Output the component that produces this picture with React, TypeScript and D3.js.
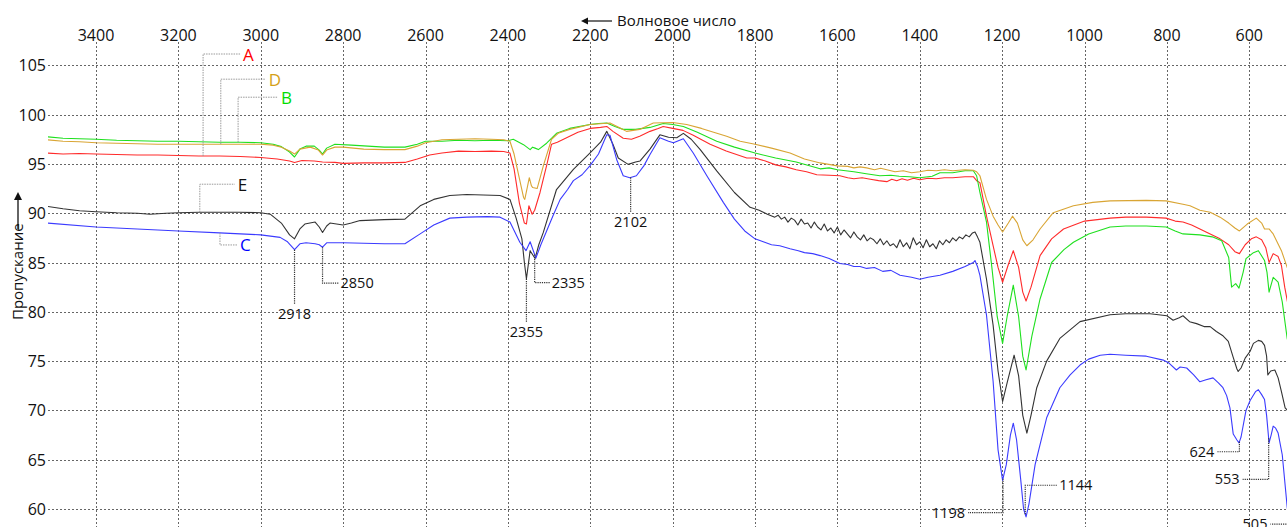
import React from 'react';
import * as d3 from 'd3';

type Pt = [number, number];

// IR transmission spectra, [wavenumber cm-1, transmission %]
const seriesA: Pt[] = [
  [3520, 96.1], [3480, 96.0], [3440, 96.05], [3400, 96.0], [3350, 95.95], [3300, 95.9], [3250, 95.9],
  [3200, 95.85], [3150, 95.8], [3100, 95.8], [3050, 95.75], [3000, 95.65], [2960, 95.5], [2930, 95.3],
  [2918, 95.15], [2900, 95.35], [2870, 95.3], [2850, 95.2], [2820, 95.15], [2800, 95.05], [2750, 95.1],
  [2700, 95.1], [2650, 95.15], [2620, 95.5], [2590, 95.9], [2560, 96.1], [2520, 96.3], [2480, 96.25],
  [2440, 96.3], [2410, 96.25], [2395, 96.1], [2385, 94.5], [2372, 91.0], [2360, 89.0], [2355, 88.9],
  [2349, 90.75], [2341, 89.9], [2335, 90.3], [2322, 92.1], [2305, 95.0], [2294, 97.0], [2280, 97.2],
  [2260, 97.6], [2230, 98.2], [2200, 98.6], [2175, 98.7], [2160, 98.8], [2145, 98.3], [2120, 97.6],
  [2100, 97.5], [2080, 97.8], [2055, 98.3], [2035, 98.6], [2023, 98.8], [2000, 98.6], [1975, 98.4],
  [1950, 97.9], [1909, 97.0], [1870, 96.3], [1820, 95.6], [1800, 95.6], [1775, 95.3], [1750, 94.9],
  [1725, 94.7], [1700, 94.4], [1675, 94.2], [1650, 93.9], [1620, 93.85], [1594, 93.8], [1575, 93.6],
  [1560, 93.5], [1540, 93.6], [1520, 93.45], [1500, 93.3], [1480, 93.2], [1468, 93.45], [1456, 93.3],
  [1443, 93.5], [1430, 93.35], [1415, 93.55], [1400, 93.4], [1380, 93.55], [1360, 93.5], [1340, 93.6],
  [1320, 93.6], [1290, 93.7], [1270, 93.7], [1262, 93.3], [1254, 93.1], [1238, 89.7], [1222, 86.7],
  [1210, 84.5], [1199, 83.0], [1185, 84.8], [1173, 86.2], [1160, 84.5], [1150, 82.0], [1142, 81.1],
  [1130, 82.5], [1108, 85.7], [1080, 87.4], [1051, 88.4], [1000, 89.2], [938, 89.5], [900, 89.6],
  [850, 89.6], [802, 89.5], [780, 89.2], [761, 89.1], [740, 88.8], [720, 88.4], [700, 88.0],
  [671, 87.4], [650, 86.8], [635, 86.1], [624, 85.9], [610, 86.8], [595, 87.4], [583, 87.6],
  [570, 87.3], [560, 86.5], [552, 85.0], [542, 85.9], [530, 85.6], [522, 84.7], [514, 82.5],
  [505, 80.5], [495, 79.0],
];

const seriesB: Pt[] = [
  [3520, 97.75], [3480, 97.6], [3440, 97.55], [3400, 97.5], [3350, 97.4], [3300, 97.35], [3250, 97.3],
  [3200, 97.3], [3150, 97.25], [3100, 97.2], [3050, 97.2], [3000, 97.15], [2970, 97.0], [2950, 96.75],
  [2930, 96.2], [2918, 95.7], [2905, 96.5], [2890, 96.8], [2870, 96.8], [2858, 96.4], [2850, 96.0],
  [2840, 96.6], [2820, 97.0], [2780, 96.9], [2740, 96.8], [2700, 96.7], [2650, 96.7], [2620, 97.0],
  [2600, 97.3], [2560, 97.3], [2520, 97.4], [2480, 97.35], [2440, 97.4], [2400, 97.35], [2387, 97.5],
  [2362, 96.95], [2346, 96.45], [2340, 96.7], [2334, 96.6], [2326, 96.45], [2306, 97.1], [2282, 98.1],
  [2250, 98.6], [2201, 99.0], [2180, 99.1], [2160, 99.15], [2140, 98.8], [2120, 98.5], [2090, 98.5],
  [2055, 98.7], [2023, 99.1], [2000, 99.0], [1974, 98.8], [1940, 98.2], [1893, 97.3], [1850, 96.7],
  [1800, 96.1], [1750, 95.6], [1700, 95.2], [1642, 94.5], [1620, 94.6], [1600, 94.4], [1560, 94.2],
  [1530, 94.0], [1497, 93.8], [1470, 93.85], [1450, 93.75], [1425, 93.7], [1400, 93.6], [1370, 93.75],
  [1351, 94.1], [1320, 94.1], [1290, 94.3], [1270, 94.3], [1262, 93.8], [1254, 92.1], [1238, 89.1],
  [1225, 84.5], [1212, 79.5], [1199, 76.8], [1188, 79.5], [1173, 82.7], [1160, 79.5], [1150, 75.5],
  [1142, 74.1], [1128, 77.5], [1108, 81.3], [1080, 85.0], [1050, 86.3], [1027, 87.05], [990, 87.9],
  [938, 88.6], [900, 88.7], [850, 88.7], [802, 88.6], [780, 88.2], [761, 87.9], [720, 87.8],
  [690, 87.6], [667, 87.2], [650, 85.5], [643, 82.5], [633, 82.85], [625, 82.4], [615, 84.0],
  [608, 85.4], [590, 86.0], [578, 86.2], [563, 85.2], [557, 84.0], [552, 82.0], [542, 83.5],
  [530, 83.0], [520, 81.0], [508, 77.3], [495, 75.0],
];

const seriesC: Pt[] = [
  [3520, 89.0], [3400, 88.6], [3300, 88.4], [3200, 88.2], [3100, 88.0], [3000, 87.8], [2953, 87.55],
  [2935, 87.1], [2918, 86.3], [2905, 86.9], [2890, 87.0], [2868, 86.9], [2858, 86.8], [2850, 86.55],
  [2840, 87.0], [2800, 87.0], [2750, 86.95], [2700, 86.9], [2650, 86.9], [2613, 87.9], [2580, 88.8],
  [2541, 89.5], [2500, 89.6], [2450, 89.65], [2419, 89.6], [2395, 89.1], [2371, 87.05], [2356, 86.2],
  [2346, 87.1], [2332, 85.45], [2320, 86.8], [2306, 88.2], [2290, 89.8], [2273, 91.4], [2255, 92.4],
  [2241, 93.3], [2220, 93.9], [2201, 94.8], [2180, 96.0], [2160, 97.95], [2152, 97.9], [2136, 95.45],
  [2120, 93.8], [2104, 93.6], [2088, 93.8], [2070, 94.8], [2055, 95.95], [2031, 97.65], [2010, 97.3],
  [1998, 97.15], [1974, 97.55], [1950, 96.1], [1917, 93.8], [1877, 91.1], [1850, 89.4], [1825, 88.2],
  [1800, 87.4], [1780, 87.1], [1760, 86.8], [1740, 86.7], [1715, 86.4], [1695, 86.2], [1680, 86.0],
  [1660, 85.9], [1642, 85.7], [1620, 85.4], [1594, 84.9], [1575, 84.8], [1560, 84.6], [1545, 84.6],
  [1529, 84.4], [1510, 84.5], [1490, 84.1], [1470, 84.2], [1448, 83.7], [1420, 83.5], [1400, 83.3],
  [1380, 83.5], [1351, 83.7], [1320, 84.1], [1290, 84.6], [1270, 85.0], [1266, 85.2], [1260, 84.6],
  [1254, 83.7], [1238, 79.65], [1222, 72.95], [1210, 66.0], [1199, 62.9], [1190, 64.5], [1180, 67.5],
  [1173, 68.7], [1165, 67.0], [1155, 63.0], [1148, 60.0], [1142, 59.2], [1135, 60.5], [1120, 64.5],
  [1092, 69.25], [1060, 72.3], [1035, 73.6], [1011, 74.6], [990, 75.2], [962, 75.6], [938, 75.7],
  [900, 75.6], [850, 75.5], [809, 75.1], [795, 74.8], [777, 74.1], [768, 74.4], [752, 74.3],
  [735, 73.6], [720, 72.9], [705, 73.1], [688, 73.3], [675, 72.8], [664, 72.3], [655, 71.5],
  [647, 70.25], [639, 67.6], [630, 67.0], [625, 66.7], [620, 67.3], [608, 70.0], [598, 71.0],
  [585, 71.9], [578, 72.1], [570, 71.6], [563, 71.1], [558, 69.5], [552, 66.7], [547, 67.5],
  [542, 68.4], [536, 68.2], [530, 67.7], [520, 65.5], [508, 60.2], [500, 58.0],
];

const seriesD: Pt[] = [
  [3520, 97.45], [3480, 97.3], [3440, 97.25], [3400, 97.15], [3350, 97.1], [3300, 97.05], [3250, 97.0],
  [3200, 97.0], [3150, 97.0], [3100, 97.0], [3050, 97.0], [3000, 97.0], [2970, 96.9], [2950, 96.7],
  [2930, 96.3], [2918, 96.0], [2905, 96.5], [2880, 96.7], [2860, 96.4], [2850, 95.9], [2840, 96.4],
  [2820, 96.7], [2800, 96.7], [2750, 96.5], [2700, 96.45], [2650, 96.45], [2620, 96.8], [2600, 97.15],
  [2560, 97.45], [2520, 97.5], [2480, 97.55], [2440, 97.5], [2410, 97.45], [2395, 97.3], [2385, 96.0],
  [2372, 93.5], [2362, 91.6], [2359, 91.4], [2352, 92.8], [2348, 93.6], [2343, 92.8], [2340, 92.6],
  [2329, 92.5], [2314, 94.8], [2294, 97.5], [2278, 98.1], [2250, 98.5], [2200, 99.0], [2152, 99.15],
  [2130, 98.7], [2112, 98.3], [2080, 98.5], [2047, 99.15], [2000, 99.2], [1966, 99.0], [1930, 98.6],
  [1869, 97.8], [1836, 97.3], [1800, 97.0], [1760, 96.6], [1715, 96.1], [1680, 95.5], [1642, 95.1],
  [1600, 94.8], [1575, 94.75], [1560, 94.6], [1545, 94.7], [1529, 94.6], [1510, 94.4], [1495, 94.55],
  [1480, 94.4], [1460, 94.2], [1440, 94.3], [1420, 94.1], [1400, 94.2], [1380, 94.35], [1360, 94.3],
  [1340, 94.4], [1320, 94.3], [1290, 94.4], [1270, 94.35], [1262, 94.2], [1254, 93.8], [1238, 91.4],
  [1222, 89.7], [1210, 88.8], [1199, 88.1], [1185, 89.0], [1175, 89.7], [1163, 89.0], [1150, 87.3],
  [1140, 86.7], [1125, 87.3], [1108, 88.4], [1076, 90.05], [1027, 90.75], [980, 91.1], [938, 91.25],
  [850, 91.3], [802, 91.25], [761, 90.9], [744, 90.75], [720, 90.3], [695, 90.1], [671, 89.6],
  [650, 89.0], [635, 88.5], [624, 88.2], [605, 88.9], [583, 89.5], [570, 89.0], [563, 88.4],
  [552, 88.4], [542, 87.9], [522, 86.2], [508, 84.5], [495, 83.5],
];

const seriesE: Pt[] = [
  [3520, 90.7], [3480, 90.45], [3440, 90.25], [3400, 90.15], [3350, 90.05], [3300, 90.0], [3269, 89.9],
  [3230, 90.0], [3200, 90.05], [3150, 90.1], [3100, 90.1], [3050, 90.1], [3000, 90.05], [2977, 89.9],
  [2950, 89.0], [2930, 87.8], [2918, 87.4], [2905, 88.4], [2893, 88.9], [2868, 89.1], [2858, 88.6],
  [2850, 88.05], [2840, 88.7], [2832, 89.0], [2800, 88.8], [2780, 89.0], [2759, 89.25], [2700, 89.35],
  [2650, 89.4], [2613, 90.75], [2580, 91.4], [2541, 91.8], [2500, 91.9], [2460, 91.85], [2419, 91.8],
  [2395, 91.4], [2380, 89.5], [2366, 87.4], [2360, 85.0], [2355, 83.35], [2346, 86.2], [2334, 85.4],
  [2325, 86.8], [2314, 88.05], [2282, 92.4], [2241, 94.45], [2201, 96.1], [2175, 97.2], [2160, 98.3],
  [2145, 97.0], [2132, 95.6], [2108, 94.95], [2090, 95.2], [2079, 95.3], [2055, 96.5], [2031, 97.95],
  [2010, 97.7], [1990, 97.65], [1974, 98.1], [1955, 97.5], [1933, 96.45], [1893, 94.3], [1850, 92.1],
  [1812, 90.6], [1790, 90.3], [1770, 89.9], [1752, 89.6], [1744, 89.8], [1736, 89.4], [1728, 89.6],
  [1720, 89.1], [1712, 89.5], [1704, 89.3], [1696, 88.8], [1688, 89.4], [1680, 88.9], [1672, 89.0],
  [1664, 88.5], [1656, 89.1], [1648, 88.6], [1640, 88.3], [1632, 88.9], [1624, 88.2], [1616, 88.5],
  [1608, 88.0], [1600, 88.6], [1592, 87.8], [1584, 88.3], [1576, 87.9], [1568, 87.5], [1560, 88.1],
  [1552, 87.6], [1544, 87.3], [1536, 87.8], [1528, 87.2], [1520, 87.5], [1512, 87.3], [1504, 86.9],
  [1496, 87.4], [1488, 86.8], [1480, 87.2], [1472, 86.7], [1464, 86.9], [1456, 86.5], [1448, 87.3],
  [1440, 86.6], [1432, 87.0], [1424, 86.4], [1416, 87.5], [1408, 86.8], [1400, 87.1], [1392, 86.5],
  [1384, 87.3], [1376, 86.6], [1368, 86.9], [1360, 86.4], [1352, 87.2], [1344, 86.8], [1336, 87.3],
  [1328, 87.0], [1320, 87.5], [1312, 87.2], [1304, 87.6], [1296, 87.4], [1288, 87.8], [1280, 87.6],
  [1272, 88.0], [1266, 88.1], [1260, 87.6], [1254, 87.05], [1238, 83.3], [1222, 78.65], [1210, 74.0],
  [1199, 70.9], [1188, 72.8], [1171, 75.6], [1160, 73.5], [1150, 69.5], [1140, 67.7], [1130, 69.5],
  [1116, 72.3], [1092, 75.0], [1060, 77.3], [1011, 79.0], [938, 79.7], [900, 79.8], [841, 79.8],
  [800, 79.6], [785, 79.15], [770, 79.4], [761, 79.6], [745, 79.0], [728, 78.8], [710, 78.5],
  [695, 78.5], [680, 78.0], [665, 77.6], [651, 77.0], [640, 75.5], [630, 74.2], [627, 73.95],
  [620, 74.3], [610, 75.3], [598, 76.0], [590, 76.8], [578, 77.1], [570, 77.0], [563, 76.6],
  [558, 75.5], [555, 73.6], [548, 74.0], [538, 74.1], [530, 73.3], [522, 71.9], [513, 70.25],
  [505, 69.9], [495, 69.5],
];

const xTickValues = [3400, 3200, 3000, 2800, 2600, 2400, 2200, 2000, 1800, 1600, 1400, 1200, 1000, 800, 600];
const yTickValues = [60, 65, 70, 75, 80, 85, 90, 95, 100, 105];

const curves = [
  { key: 'E', color: '#333333', data: seriesE },
  { key: 'C', color: '#3b3bff', data: seriesC },
  { key: 'A', color: '#ff2b2b', data: seriesA },
  { key: 'B', color: '#1fe01f', data: seriesB },
  { key: 'D', color: '#d9a534', data: seriesD },
];

const tagColors: Record<string, string> = {
  A: '#ff0000', B: '#00dd00', C: '#0000ff', D: '#d4a017', E: '#111111',
};

// series tags: leader from the curve at w, bent by dy, then dx to the letter
const seriesTags = [
  { key: 'A', w: 3140, dy: -102, dx: 37 },
  { key: 'D', w: 3097, dy: -65, dx: 45 },
  { key: 'B', w: 3055, dy: -45, dx: 40 },
  { key: 'E', w: 3148, dy: -28, dx: 35 },
  { key: 'C', w: 3099, dy: 12, dx: 17 },
];

// band positions
const peakLabels = [
  { text: '2918', w: 2918, key: 'C', dy: 54, side: 'below', dx: 0 },
  { text: '2850', w: 2850, key: 'C', dy: 36, side: 'right', dx: 16 },
  { text: '2355', w: 2355, key: 'E', dy: 43, side: 'below', dx: 0 },
  { text: '2335', w: 2335, key: 'C', dy: 28, side: 'right', dx: 15 },
  { text: '2102', w: 2102, key: 'C', dy: 35, side: 'below', dx: 0 },
  { text: '1198', w: 1198, key: 'C', dy: 34, side: 'left', dx: 35 },
  { text: '1144', w: 1144, key: 'C', dy: -29, side: 'right', dx: 32 },
  { text: '624', w: 624, key: 'C', dy: 10, side: 'left', dx: 22 },
  { text: '553', w: 553, key: 'C', dy: 41, side: 'left', dx: 26 },
  { text: '505', w: 505, key: 'C', dy: 9, side: 'left', dx: 18 },
];

const W = 1287;
const H = 527;
const FONT = "'Open Sans', 'DejaVu Sans', sans-serif";

function valueAt(data: Pt[], w: number): number {
  for (let i = 0; i < data.length - 1; i++) {
    const [w0, v0] = data[i];
    const [w1, v1] = data[i + 1];
    if (w <= w0 && w >= w1) {
      const t = (w0 - w) / (w0 - w1 || 1);
      return v0 + (v1 - v0) * t;
    }
  }
  return data[data.length - 1][1];
}

export default function App() {
  const x = d3.scaleLinear().domain([3400, 600]).range([96, 1249.3]);
  const y = d3.scaleLinear().domain([105, 60]).range([65.3, 509]);
  const plotLeft = 48;
  const plotTop = 42;

  const line = d3
    .line<Pt>()
    .x((d) => x(d[0]))
    .y((d) => y(d[1]));

  const byKey: Record<string, Pt[]> = {};
  curves.forEach((c) => (byKey[c.key] = c.data));

  return (
    <svg
      width={W}
      height={H}
      style={{ position: 'absolute', left: 0, top: 0, background: '#fff' }}
      fontFamily={FONT}
    >
      <defs>
        <clipPath id="plot-clip">
          <rect x={plotLeft} y={plotTop} width={W - plotLeft} height={H - plotTop} />
        </clipPath>
      </defs>
      <rect x={0} y={0} width={W} height={H} fill="#fff" />

      {/* grid */}
      <g stroke="#666" strokeWidth={1} strokeDasharray="2,2" shapeRendering="crispEdges">
        {yTickValues.map((v) => (
          <line key={'h' + v} x1={plotLeft} x2={W} y1={Math.round(y(v)) + 0.5} y2={Math.round(y(v)) + 0.5} />
        ))}
        {xTickValues.map((w) => (
          <line key={'v' + w} x1={Math.round(x(w)) + 0.5} x2={Math.round(x(w)) + 0.5} y1={plotTop} y2={H} />
        ))}
      </g>

      {/* tick labels */}
      <g fontSize={16} fill="#111">
        {xTickValues.map((w) => (
          <text key={'xt' + w} x={x(w)} y={41} textAnchor="middle">
            {w}
          </text>
        ))}
        {yTickValues.map((v) => (
          <text key={'yt' + v} x={46} y={y(v) + 6} textAnchor="end">
            {v}
          </text>
        ))}
      </g>

      {/* axis titles */}
      <g fill="#111" fontSize={15}>
        <line x1={612} x2={584} y1={21} y2={21} stroke="#111" strokeWidth={1.2} />
        <path d="M 581 21 L 588 17.5 L 588 24.5 Z" fill="#111" />
        <text x={617} y={26}>Волновое число</text>
        <g transform="translate(23, 320) rotate(-90)">
          <text x={0} y={0}>Пропускание</text>
          <line x1={91} x2={124} y1={-5} y2={-5} stroke="#111" strokeWidth={1.3} />
          <path d="M 128 -5 L 120 -9 L 120 -1 Z" fill="#111" />
        </g>
      </g>

      {/* spectra */}
      <g clipPath="url(#plot-clip)" fill="none" strokeWidth={1.1} strokeLinejoin="round">
        {curves.map((c) => (
          <path key={c.key} d={line(c.data) || ''} stroke={c.color} />
        ))}
      </g>

      {/* series tags */}
      <g>
        {seriesTags.map((t) => {
          const px = x(t.w);
          const py = y(valueAt(byKey[t.key], t.w));
          const ey = py + t.dy;
          return (
            <g key={'tag' + t.key}>
              <path
                d={`M ${px} ${py} L ${px} ${ey} L ${px + t.dx} ${ey}`}
                fill="none"
                stroke="#999"
                strokeWidth={1}
                strokeDasharray="1.5,1"
              />
              <text x={px + t.dx + 3} y={ey + 6.5} fontSize={17} fill={tagColors[t.key]}>
                {t.key}
              </text>
            </g>
          );
        })}
      </g>

      {/* band labels */}
      <g fontSize={14.5} fill="#111">
        {peakLabels.map((p) => {
          const px = x(p.w);
          const py = y(valueAt(byKey[p.key], p.w));
          const ey = py + p.dy;
          let d = `M ${px} ${py} L ${px} ${ey}`;
          let tx = px;
          let ty = ey + 15;
          let anchor: 'start' | 'middle' | 'end' = 'middle';
          if (p.side === 'right') {
            d += ` L ${px + p.dx} ${ey}`;
            tx = px + p.dx + 2;
            ty = ey + 5;
            anchor = 'start';
          } else if (p.side === 'left') {
            d += ` L ${px - p.dx} ${ey}`;
            tx = px - p.dx - 3;
            ty = ey + 5;
            anchor = 'end';
          }
          return (
            <g key={'pk' + p.text}>
              <path d={d} fill="none" stroke="#333" strokeWidth={1.2} strokeDasharray="1.2,1" />
              <text x={tx} y={ty} textAnchor={anchor}>
                {p.text}
              </text>
            </g>
          );
        })}
      </g>
    </svg>
  );
}
